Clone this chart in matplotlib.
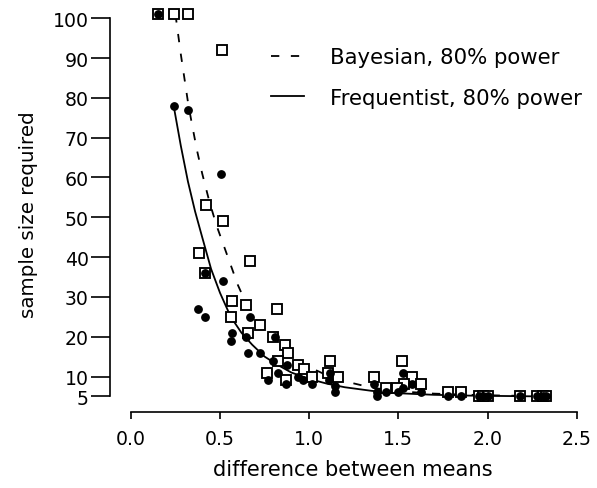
import matplotlib
matplotlib.use("Agg")
import matplotlib.pyplot as plt

plt.rcParams['font.family'] = ['DejaVu Sans']

# Bayesian sample sizes (open squares)
bayes_x = [0.15, 0.243, 0.318, 0.509, 0.421, 0.515, 0.380, 0.668, 0.414, 0.567,
           0.646, 0.818, 0.561, 0.724, 0.655, 0.796, 0.866, 0.880, 0.827, 0.935,
           0.969, 0.765, 0.870, 1.014, 1.117, 1.107, 1.161, 1.365, 1.431, 1.520,
           1.575, 1.626, 1.530, 1.491, 1.777, 1.851, 1.95, 1.975, 2.0, 2.182,
           2.28, 2.31, 2.33]
bayes_y = [101, 101, 101, 92, 53, 49, 41, 39, 36, 29,
           28, 27, 25, 23, 21, 20, 18, 16, 14, 13,
           12, 11, 9, 10, 14, 11, 10, 10, 7, 14,
           10, 8, 8, 7, 6, 6, 5, 5, 5, 5,
           5, 5, 5]

# Frequentist sample sizes (filled circles)
freq_x = [0.15, 0.242, 0.318, 0.507, 0.414, 0.515, 0.378, 0.413, 0.668, 0.566,
          0.645, 0.810, 0.561, 0.655, 0.724, 0.795, 0.875, 0.823, 0.767, 0.870,
          0.935, 0.967, 1.014, 1.117, 1.113, 1.145, 1.145, 1.365, 1.378, 1.378,
          1.524, 1.575, 1.625, 1.528, 1.431, 1.496, 1.777, 1.851, 1.95, 1.975,
          2.0, 2.182, 2.28, 2.31, 2.33]
freq_y = [101, 78, 77, 61, 36, 34, 27, 25, 25, 21,
          20, 20, 19, 16, 16, 14, 13, 11, 9, 8,
          10, 9, 8, 11, 9, 7.5, 6, 8, 6, 5,
          11, 8, 6, 7, 6, 6, 5, 5, 5, 5,
          5, 5, 5, 5, 5]

# Fitted curves
bayes_curve_x = [0.25, 0.28, 0.30, 0.32, 0.34, 0.37, 0.40, 0.44, 0.48, 0.52,
                 0.56, 0.60, 0.65, 0.72, 0.80, 0.88, 0.97, 1.09, 1.20, 1.35,
                 1.50, 1.70, 1.90, 2.10, 2.30]
bayes_curve_y = [101, 91, 85, 79, 74, 67, 61, 54, 48, 43,
                 38, 33, 28, 23, 19.5, 16, 13, 10.5, 8.8, 7.2,
                 6.3, 5.7, 5.4, 5.2, 5.1]

freq_curve_x = [0.24, 0.28, 0.32, 0.36, 0.40, 0.45, 0.50, 0.56, 0.62, 0.68,
                0.75, 0.82, 0.90, 1.00, 1.10, 1.20, 1.35, 1.50, 1.70, 1.90,
                2.10, 2.30]
freq_curve_y = [78, 68, 59, 51.5, 45, 37, 31, 25, 21, 18,
                15, 13, 11, 9.4, 8.2, 7.3, 6.4, 5.8, 5.4, 5.2,
                5.1, 5.0]

x_ticks = [0.0, 0.5, 1.0, 1.5, 2.0, 2.5]
x_labels = ["0.0", "0.5", "1.0", "1.5", "2.0", "2.5"]
y_ticks = [5, 10, 20, 30, 40, 50, 60, 70, 80, 90, 100]
y_labels = ["5", "10", "20", "30", "40", "50", "60", "70", "80", "90", "100"]

W, H = 597, 489
AX_L, AX_R, AX_B = 110.0, 594.5, 412.7
fig = plt.figure(figsize=(W / 100, H / 100), dpi=100)
ax = fig.add_axes([AX_L / W, (H - AX_B) / H, (AX_R - AX_L) / W, AX_B / H])
ax.set_xlim(-0.117, 2.6)
ax.set_ylim(1.16, 104.84)

lw = 1.3
ax.plot(bayes_curve_x, bayes_curve_y, color='black', lw=lw, dashes=(4.6, 6.4),
        label='Bayesian, 80% power', clip_on=False)
ax.plot(freq_curve_x, freq_curve_y, color='black', lw=lw,
        label='Frequentist, 80% power', clip_on=False)

ax.plot(bayes_x, bayes_y, linestyle='none', marker='s', markersize=6.5,
        markerfacecolor='white', markeredgecolor='black', markeredgewidth=1.35,
        clip_on=False, zorder=3)
ax.plot(freq_x, freq_y, linestyle='none', marker='o', markersize=5.3,
        color='black', clip_on=False, zorder=4)

for s in ['top', 'right']:
    ax.spines[s].set_visible(False)
ax.spines['left'].set_bounds(5, 100)
ax.spines['bottom'].set_bounds(0, 2.5)
for s in ['left', 'bottom']:
    ax.spines[s].set_linewidth(1.2)

ax.set_xticks(x_ticks)
ax.set_xticklabels(x_labels)
ax.set_yticks(y_ticks)
ax.set_yticklabels(y_labels)
ax.tick_params(axis='y', length=13.7, width=1.2, pad=1.5, labelsize=13.6)
ax.tick_params(axis='x', length=5.3, width=1.2, pad=7, labelsize=13.6)

ax.set_xlabel('difference between means', fontsize=15.1, va='baseline')
ax.xaxis.set_label_coords((353 - AX_L) / (AX_R - AX_L), (AX_B - 476) / AX_B)
ax.set_ylabel('sample size required', fontsize=14.3)
ax.yaxis.set_label_coords((38.5 - AX_L) / (AX_R - AX_L), (AX_B - 214.5) / AX_B)

leg = ax.legend(loc='upper left', bbox_to_anchor=(271 / W, 1 - 48 / H),
                bbox_transform=fig.transFigure, frameon=False, fontsize=15.3,
                handlelength=1.55, handletextpad=1.22, labelspacing=0.98,
                borderpad=0, borderaxespad=0)

fig.savefig('out.png', dpi=100)
